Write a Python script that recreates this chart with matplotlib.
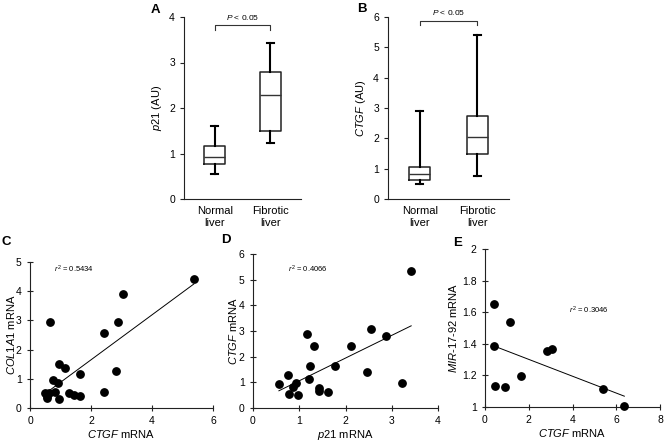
import numpy as np
import matplotlib
matplotlib.use("Agg")
import matplotlib.pyplot as plt

plt.rcParams['font.family'] = ['Liberation Sans', 'DejaVu Sans']
plt.rcParams['mathtext.fontset'] = 'custom'
plt.rcParams['mathtext.rm'] = 'Liberation Sans'
plt.rcParams['mathtext.it'] = 'Liberation Sans:italic'

# box plot stats: [whislo, q1, median, q3, whishi]
groups = ["Normal\nliver", "Fibrotic\nliver"]
p21_normal = [0.55, 0.78, 0.92, 1.17, 1.60]
p21_fibrotic = [1.22, 1.50, 2.28, 2.80, 3.42]
ctgf_normal = [0.50, 0.62, 0.83, 1.05, 2.90]
ctgf_fibrotic = [0.77, 1.47, 2.05, 2.75, 5.40]

# panel C: CTGF vs COL1A1
c_ctgf = [5.37, 3.06, 2.89, 2.43, 2.82, 2.44, 1.65, 0.67, 0.95, 1.15, 0.77,
          0.92, 0.82, 1.28, 1.43, 1.64, 0.95, 0.49, 0.57, 0.62, 0.55]
c_col1a1 = [4.41, 3.90, 2.96, 2.57, 1.26, 0.55, 1.17, 2.94, 1.49, 1.38, 0.96,
            0.84, 0.55, 0.52, 0.46, 0.41, 0.30, 0.53, 0.35, 0.53, 0.42]
c_fit = [0.77, 0.11]

# panel D: p21 vs CTGF
d_p21 = [3.42, 2.55, 2.88, 2.11, 1.16, 1.32, 1.23, 1.77, 2.46, 3.22, 1.22,
         0.56, 0.75, 0.92, 0.87, 0.78, 0.97, 1.42, 1.43, 1.62]
d_ctgf = [5.35, 3.06, 2.80, 2.43, 2.88, 2.43, 1.64, 1.64, 1.42, 0.96, 1.14,
          0.92, 1.27, 0.96, 0.81, 0.55, 0.51, 0.79, 0.68, 0.64]
d_fit = [0.885, 0.175]

# panel E: CTGF vs MIR-17-92
e_ctgf = [0.41, 0.40, 1.13, 0.46, 0.90, 1.65, 2.82, 3.07, 5.40, 6.37]
e_mir = [1.655, 1.387, 1.535, 1.13, 1.128, 1.194, 1.352, 1.368, 1.116, 1.004]
e_fit = [-0.0533, 1.408]

W, H = 665, 443
fig = plt.figure(figsize=(6.65, 4.43), dpi=100)


def axes_px(left, top, right, bottom):
    return fig.add_axes([left / W, 1 - bottom / H, (right - left) / W, (bottom - top) / H])


def style(ax):
    for s in ['top', 'right']:
        ax.spines[s].set_visible(False)
    for s in ['left', 'bottom']:
        ax.spines[s].set_linewidth(0.8)
        ax.spines[s].set_color('#222222')
    ax.tick_params(labelsize=7.5, width=0.8, length=3, color='#222222')


def box_panel(ax, normal, fibrotic, ymax, ylabel, bracket_y):
    stats = []
    for name, v in zip(groups, [normal, fibrotic]):
        stats.append(dict(label=name, whislo=v[0], q1=v[1], med=v[2], q3=v[3], whishi=v[4]))
    ax.bxp(stats, positions=[1, 2], widths=0.37, showfliers=False, capwidths=0.12,
           boxprops=dict(color='#222222', linewidth=1.1),
           medianprops=dict(color='#333333', linewidth=1.0),
           whiskerprops=dict(color='black', linewidth=1.5),
           capprops=dict(color='black', linewidth=1.5))
    style(ax)
    ax.set_xlim(0.45, 2.55)
    ax.set_ylim(0, ymax)
    ax.set_yticks(range(ymax + 1))
    ax.tick_params(axis='x', length=0, pad=5, labelsize=8)
    ax.tick_params(axis='y', direction='out')
    ax.set_ylabel(ylabel, fontsize=8)
    leg = 0.025 * ymax
    ax.plot([1, 1, 2, 2], [bracket_y - leg, bracket_y, bracket_y, bracket_y - leg],
            color='#333333', lw=0.8, clip_on=False)
    ax.text(1.5, bracket_y + 0.045 * ymax, r'$\it{P}$ < 0.05', fontsize=6,
            ha='center', va='center')


axA = axes_px(184, 17, 301, 199)
box_panel(axA, p21_normal, p21_fibrotic, 4, r'$\it{p21}$ (AU)', 3.82)
axB = axes_px(388, 17, 509, 199)
box_panel(axB, ctgf_normal, ctgf_fibrotic, 6, r'$\it{CTGF}$ (AU)', 5.87)


def scatter_panel(ax, x, y, fit, xlim, ylim, xticks, yticks, xlabel, ylabel, r2, r2pos, ypad=2):
    ax.plot(x, y, 'o', color='black', ms=5.3, clip_on=False, zorder=3)
    xs = np.array([min(x), max(x)])
    ax.plot(xs, fit[0] * xs + fit[1], color='black', lw=0.7)
    style(ax)
    ax.set_xlim(*xlim)
    ax.set_ylim(*ylim)
    ax.set_xticks(xticks)
    ax.set_yticks(yticks)
    ax.tick_params(direction='inout', length=4, pad=4)
    ax.set_xlabel(xlabel, fontsize=8, labelpad=1)
    ax.set_ylabel(ylabel, fontsize=8, labelpad=ypad)
    ax.text(r2pos[0], r2pos[1], r'$\it{r}^2$ = ' + r2, fontsize=5.5, va='center')


axC = axes_px(30, 262, 213, 408)
scatter_panel(axC, c_ctgf, c_col1a1, c_fit, (0, 6), (0, 5), [0, 2, 4, 6], range(6),
              r'$\it{CTGF}$ mRNA', r'$\it{COL1A1}$ mRNA', '0.5434', (0.78, 4.75), ypad=-1)

axD = axes_px(253, 254, 438, 408)
scatter_panel(axD, d_p21, d_ctgf, d_fit, (0, 4), (0, 6), range(5), range(7),
              r'$\it{p21}$ mRNA', r'$\it{CTGF}$ mRNA', '0.4066', (0.76, 5.4), ypad=0)

axE = axes_px(485, 249, 660, 407)
scatter_panel(axE, e_ctgf, e_mir, e_fit, (0, 8), (1, 2), [0, 2, 4, 6, 8],
              [1, 1.2, 1.4, 1.6, 1.8, 2],
              r'$\it{CTGF}$ mRNA', r'$\it{MIR}$-$\it{17}$-$\it{92}$ mRNA', '0.3046', (3.85, 1.61))
axE.set_yticklabels(['1', '1.2', '1.4', '1.6', '1.8', '2'])

for letter, px, py in [('A', 155, 10), ('B', 362, 9), ('C', 6, 242), ('D', 226, 240), ('E', 458, 243)]:
    fig.text(px / W, 1 - py / H, letter, fontsize=9.5, fontweight='bold', ha='center', va='center')

fig.savefig('out.png', dpi=100)
